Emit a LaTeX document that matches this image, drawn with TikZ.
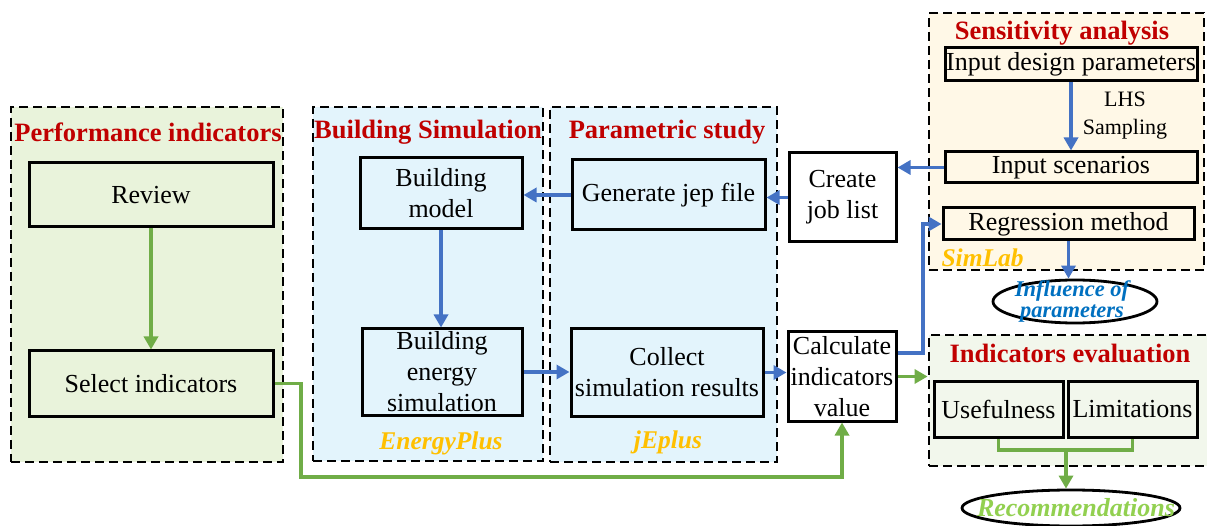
\documentclass[tikz,border=0pt]{standalone}
\usepackage{fontspec}
\setmainfont{Liberation Serif}
\usetikzlibrary{arrows.meta,shapes.geometric}
\definecolor{arrowBlue}{HTML}{4472C4}
\definecolor{arrowGreen}{HTML}{70AD47}
\definecolor{titleRed}{HTML}{C00000}
\definecolor{toolOrange}{HTML}{FFC000}
\definecolor{inflBlue}{HTML}{0070C0}
\definecolor{recGreen}{HTML}{92D050}
\definecolor{perfFill}{HTML}{E9F3DB}
\definecolor{simFill}{HTML}{E3F4FC}
\definecolor{sensFill}{HTML}{FFF8E7}
\definecolor{evalFill}{HTML}{F2F7EC}
\newcommand\boxfont{\fontsize{26}{31}\selectfont}
\newcommand\titlefont{\fontsize{26.5}{30}\selectfont\bfseries}
\newcommand\toolfont{\fontsize{25.5}{30}\selectfont\bfseries\itshape}

\begin{document}
\begin{tikzpicture}[x=1pt,y=-1pt,
	box/.style={draw=black, line width=3pt, inner sep=1pt, align=center, font=\boxfont},
	group/.style={draw=black, line width=2.8pt, dash pattern=on 9pt off 5pt},
	title/.style={font=\titlefont, text=titleRed},
	tool/.style={font=\toolfont, text=toolOrange},
	oval/.style={ellipse, draw=black, line width=2.8pt, inner sep=0pt},
	bluearrow/.style={draw=arrowBlue, line width=3.5pt, -{Triangle[length=13pt,width=14pt]}},
	greenarrow/.style={draw=arrowGreen, line width=3.5pt, -{Triangle[length=13pt,width=14pt]}},
	greenline/.style={draw=arrowGreen, line width=3.5pt}]
	%%%%% START %%%%%
	\useasboundingbox (0,0) rectangle (1207,526);
	\def\rowone{195}
	\def\rowtwo{372}
	
	% dashed groups
	\node[group, fill=perfFill, minimum width=272, minimum height=355] (perfgrp) at (147,284.5) {};
	\node[group, fill=simFill, minimum width=230, minimum height=354] (bsimgrp) at (428,284) {};
	\node[group, fill=simFill, minimum width=227, minimum height=355] (paramgrp) at (663.5,284.5) {};
	\node[group, fill=sensFill, minimum width=275, minimum height=257] (sensgrp) at (1066.5,141.5) {};
	\node[group, fill=evalFill, minimum width=283, minimum height=131] (evalgrp) at (1070.5,400.5) {};
	
	\node[title] (perftitle) at (148,132) {Performance indicators};
	\node[title] (bsimtitle) at (428,132) {Building Simulation};
	\node[title] (paramtitle) at (667,132) {Parametric study};
	\node[title] (senstitle) at (1062,33) {Sensitivity analysis};
	\node[title] (evaltitle) at (1070,353) {Indicators evaluation};
	
	\node[tool] (eplus) at (441,443) {EnergyPlus};
	\node[tool] (jeplus) at (668,442) {jEplus};
	\node[tool, anchor=west] (simlab) at (938,258) {SimLab};
	
	% boxes
	\node[box, fill=perfFill, minimum width=244, minimum height=64] (review) at (151,\rowone) {Review};
	\node[box, fill=perfFill, minimum width=244, minimum height=65] (select) at (151,383.5) {Select indicators};
	\node[box, fill=simFill, minimum width=162, minimum height=71] (bmodel) at (441,193.5) {Building\\model};
	\node[box, fill=simFill, minimum width=160, minimum height=86, inner ysep=0pt] (besim) at (442,\rowtwo) {Building\\energy\\simulation};
	\node[box, fill=simFill, minimum width=193, minimum height=70] (genjep) at (668.5,\rowone) {Generate jep file};
	\node[box, fill=simFill, minimum width=192, minimum height=87] (collect) at (667,372.5) {Collect\\simulation results};
	\node[box, fill=white, minimum width=107, minimum height=89] (joblist) at (842.5,197.5) {Create\\job list};
	\node[box, fill=white, minimum width=108, minimum height=89, inner xsep=0pt] (calc) at (842,376.5) {Calculate\\indicators\\value};
	\node[box, fill=sensFill, minimum width=252, minimum height=33, inner xsep=0pt] (inputdp) at (1071,64.5) {Input design parameters};
	\node[box, fill=sensFill, minimum width=252, minimum height=31] (inputsc) at (1071,167.5) {Input scenarios};
	\node[box, fill=sensFill, minimum width=251, minimum height=32] (regr) at (1068.5,224) {Regression method};
	\node[box, fill=evalFill, minimum width=129, minimum height=56, inner xsep=0pt] (useful) at (998.5,409) {Usefulness};
	\node[box, fill=evalFill, minimum width=129, minimum height=56, inner xsep=0pt] (limit) at (1132.5,409) {Limitations};
	\node[align=center, font=\fontsize{22}{28}\selectfont] (lhs) at (1125,116) {LHS\\Sampling};
	
	% outcomes
	\node[oval, minimum width=164, minimum height=43] (infl) at (1075,301.5) {};
	\node[align=center, text=inflBlue, font=\fontsize{22.5}{21}\selectfont\bfseries\itshape] (infltext) at (1072,301) {Influence of\\parameters};
	\node[oval, minimum width=218, minimum height=36] (recomm) at (1071,508) {};
	\node[text=recGreen, font=\fontsize{26}{30}\selectfont\bfseries\itshape] (recommtext) at (1076,508) {Recommendations};
	
	% connectors
	\draw[greenarrow] (review) -- (select);
	\coordinate (gturn) at (301,477);
	\draw[greenarrow] (select.east) -| (gturn) -| (calc.south);
	\draw[bluearrow] (bmodel.south) -- (bmodel.south |- besim.north);
	\draw[bluearrow] (genjep.west) -- (genjep.west -| bmodel.east);
	\draw[bluearrow] (besim.east) -- (besim.east -| collect.west);
	\draw[bluearrow] (joblist.west) -- (joblist.west -| genjep.east);
	\draw[bluearrow] (collect.east) -- (collect.east -| calc.west);
	\draw[bluearrow] (inputsc.west) -- (inputsc.west -| joblist.east);
	\draw[bluearrow] (inputdp.south) -- (inputsc.north);
	\coordinate (bturn) at (923,353);
	\draw[bluearrow] (calc.east |- bturn) -- (bturn) |- (regr.west);
	\draw[bluearrow] (regr.south) -- (regr.south |- infl.north);
	\draw[greenarrow] (calc.east) -- (calc.east -| evalgrp.west);
	\coordinate (brk) at (1066,450);
	\draw[greenline] (useful.south) |- (brk) -| (limit.south);
	\draw[greenarrow] (brk) -- (brk |- recomm.north);
	%%%%% END %%%%%
\end{tikzpicture}
\end{document}
